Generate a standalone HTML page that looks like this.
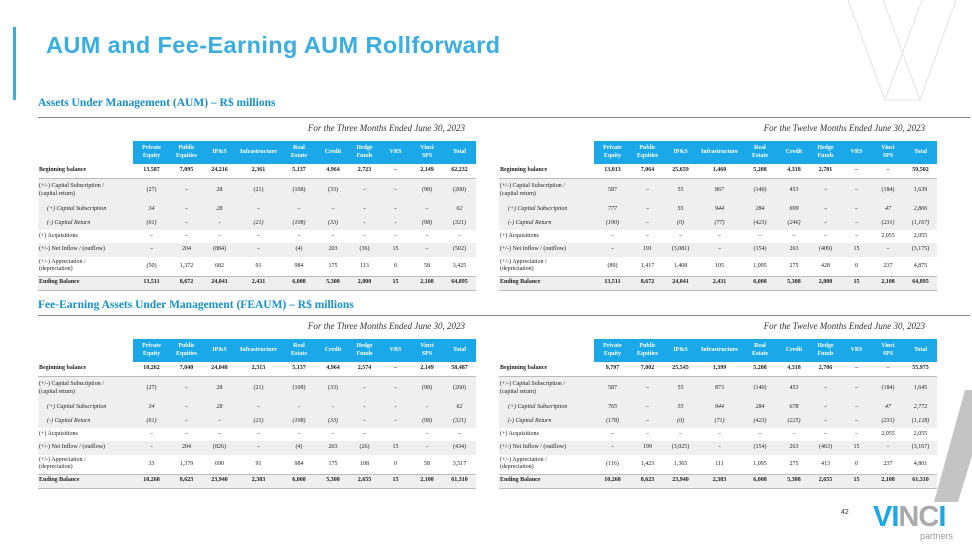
<!DOCTYPE html>
<html><head><meta charset="utf-8"><style>
*{margin:0;padding:0;box-sizing:border-box}
body{width:972px;height:547px;background:#fff;position:relative;overflow:hidden;font-family:"Liberation Serif",serif;color:#222}
.bar{position:absolute;left:13px;top:27px;width:3px;height:73px;background:#3aaee0}
.title{position:absolute;left:46px;top:32px;font:bold 23.5px "Liberation Sans",sans-serif;color:#3aaee0;letter-spacing:0.4px}
.sec{position:absolute;left:38px;font:bold 11.5px "Liberation Serif",serif;color:#1a8fc9}
.rule{position:absolute;left:38px;right:2px;height:1px;background:#888}
.cap{position:absolute;font:italic 9px "Liberation Serif",serif;color:#333;text-align:right;width:300px}
table{position:absolute;border-collapse:collapse;table-layout:fixed;font-size:6px;width:438px}
td{text-align:center;padding:0;vertical-align:middle;line-height:7.5px}
td.l{text-align:left;padding-left:1px}
tr.h td{background:#1aa8e8;color:#fff;font-weight:bold;height:23px;font-size:6px}
tr.h td.l{background:#fff}
tr.g td{background:#efefef}
td.i{font-style:italic;padding-left:9px}
tr.b td{font-weight:bold}
tr.sb td{border-bottom:1.5px solid #bbb}
tr.st td{border-top:1.5px solid #bbb;border-bottom:1.5px solid #bbb}
</style></head><body>
<div class="bar"></div>
<div class="title">AUM and Fee-Earning AUM Rollforward</div>
<svg style="position:absolute;left:0;top:0" width="972" height="547">
<g stroke="#ddd" stroke-width="0.8" fill="none">
<line x1="848" y1="0" x2="885" y2="100"/><line x1="883" y1="0" x2="920" y2="100"/>
<line x1="922" y1="0" x2="885" y2="100"/><line x1="956" y1="0" x2="920" y2="100"/>
<line x1="885" y1="100" x2="920" y2="100"/></g>
<polygon points="965,390 992,390 958,502 934,502" fill="#c4c4c4"/>
</svg>
<div class="sec" style="top:97px">Assets Under Management (AUM) – R$ millions</div>
<div class="rule" style="top:117px"></div>
<div class="sec" style="top:299px">Fee-Earning Assets Under Management (FEAUM) – R$ millions</div>
<div class="rule" style="top:315px"></div>

<div class="cap" style="left:165px;top:123px">For the Three Months Ended June 30, 2023</div>
<div class="cap" style="left:625px;top:123px">For the Twelve Months Ended June 30, 2023</div>
<div class="cap" style="left:165px;top:321px">For the Three Months Ended June 30, 2023</div>
<div class="cap" style="left:625px;top:321px">For the Twelve Months Ended June 30, 2023</div>

<table style="left:38px;top:141px">
<colgroup><col style="width:95px"><col style="width:37px"><col style="width:33px"><col style="width:33px"><col style="width:45px"><col style="width:36px"><col style="width:32px"><col style="width:31px"><col style="width:31px"><col style="width:32px"><col style="width:33px"></colgroup>
<tr class="h"><td class="l"></td><td>Private<br>Equity</td><td>Public<br>Equities</td><td>IP&amp;S</td><td>Infrastructure</td><td>Real<br>Estate</td><td>Credit</td><td>Hedge<br>Funds</td><td>VRS</td><td>Vinci<br>SPS</td><td>Total</td></tr>
<tr class="b sb" style="height:14px"><td class="l">Beginning balance</td><td>13,587</td><td>7,095</td><td>24,216</td><td>2,361</td><td>5,137</td><td>4,964</td><td>2,723</td><td>–</td><td>2,149</td><td>62,232</td></tr>
<tr class="g" style="height:25px"><td class="l">(+/-) Capital Subscription /<br>(capital return)</td><td>(27)</td><td>–</td><td>28</td><td>(21)</td><td>(108)</td><td>(33)</td><td>–</td><td>–</td><td>(98)</td><td>(260)</td></tr>
<tr class="g" style="height:14px;font-style:italic"><td class="l i">(+) Capital Subscription</td><td>34</td><td>–</td><td>28</td><td>–</td><td>–</td><td>–</td><td>–</td><td>–</td><td>–</td><td>62</td></tr>
<tr class="g" style="height:13px;font-style:italic"><td class="l i">(-) Capital Return</td><td>(61)</td><td>–</td><td>–</td><td>(21)</td><td>(108)</td><td>(33)</td><td>–</td><td>–</td><td>(98)</td><td>(321)</td></tr>
<tr style="height:13px"><td class="l">(+) Acquisitions</td><td>–</td><td>–</td><td>–</td><td>–</td><td>–</td><td>–</td><td>–</td><td>–</td><td>–</td><td>–</td></tr>
<tr class="g" style="height:14px"><td class="l">(+/-) Net Inflow / (outflow)</td><td>–</td><td>204</td><td>(884)</td><td>–</td><td>(4)</td><td>203</td><td>(36)</td><td>15</td><td>–</td><td>(502)</td></tr>
<tr style="height:19px"><td class="l">(+/-) Appreciation /<br>(depreciation)</td><td>(50)</td><td>1,372</td><td>682</td><td>91</td><td>984</td><td>175</td><td>113</td><td>0</td><td>58</td><td>3,425</td></tr>
<tr class="g b st" style="height:14px"><td class="l">Ending Balance</td><td>13,511</td><td>8,672</td><td>24,041</td><td>2,431</td><td>6,008</td><td>5,308</td><td>2,800</td><td>15</td><td>2,108</td><td>64,895</td></tr>
</table>

<table style="left:499px;top:141px">
<colgroup><col style="width:95px"><col style="width:37px"><col style="width:33px"><col style="width:33px"><col style="width:45px"><col style="width:36px"><col style="width:32px"><col style="width:31px"><col style="width:31px"><col style="width:32px"><col style="width:33px"></colgroup>
<tr class="h"><td class="l"></td><td>Private<br>Equity</td><td>Public<br>Equities</td><td>IP&amp;S</td><td>Infrastructure</td><td>Real<br>Estate</td><td>Credit</td><td>Hedge<br>Funds</td><td>VRS</td><td>Vinci<br>SPS</td><td>Total</td></tr>
<tr class="b sb" style="height:14px"><td class="l">Beginning balance</td><td>13,013</td><td>7,064</td><td>25,659</td><td>1,460</td><td>5,208</td><td>4,318</td><td>2,781</td><td>–</td><td>–</td><td>59,502</td></tr>
<tr class="g" style="height:25px"><td class="l">(+/-) Capital Subscription /<br>(capital return)</td><td>587</td><td>–</td><td>55</td><td>867</td><td>(140)</td><td>453</td><td>–</td><td>–</td><td>(184)</td><td>1,639</td></tr>
<tr class="g" style="height:14px;font-style:italic"><td class="l i">(+) Capital Subscription</td><td>777</td><td>–</td><td>55</td><td>944</td><td>284</td><td>699</td><td>–</td><td>–</td><td>47</td><td>2,806</td></tr>
<tr class="g" style="height:13px;font-style:italic"><td class="l i">(-) Capital Return</td><td>(190)</td><td>–</td><td>(0)</td><td>(77)</td><td>(423)</td><td>(246)</td><td>–</td><td>–</td><td>(231)</td><td>(1,167)</td></tr>
<tr style="height:13px"><td class="l">(+) Acquisitions</td><td>–</td><td>–</td><td>–</td><td>–</td><td>–</td><td>–</td><td>–</td><td>–</td><td>2,055</td><td>2,055</td></tr>
<tr class="g" style="height:14px"><td class="l">(+/-) Net Inflow / (outflow)</td><td>–</td><td>191</td><td>(3,081)</td><td>–</td><td>(154)</td><td>263</td><td>(409)</td><td>15</td><td>–</td><td>(3,175)</td></tr>
<tr style="height:19px"><td class="l">(+/-) Appreciation /<br>(depreciation)</td><td>(89)</td><td>1,417</td><td>1,408</td><td>105</td><td>1,095</td><td>275</td><td>428</td><td>0</td><td>237</td><td>4,875</td></tr>
<tr class="g b st" style="height:14px"><td class="l">Ending Balance</td><td>13,511</td><td>8,672</td><td>24,041</td><td>2,431</td><td>6,008</td><td>5,308</td><td>2,800</td><td>15</td><td>2,108</td><td>64,895</td></tr>
</table>

<table style="left:38px;top:339px">
<colgroup><col style="width:95px"><col style="width:37px"><col style="width:33px"><col style="width:33px"><col style="width:45px"><col style="width:36px"><col style="width:32px"><col style="width:31px"><col style="width:31px"><col style="width:32px"><col style="width:33px"></colgroup>
<tr class="h"><td class="l"></td><td>Private<br>Equity</td><td>Public<br>Equities</td><td>IP&amp;S</td><td>Infrastructure</td><td>Real<br>Estate</td><td>Credit</td><td>Hedge<br>Funds</td><td>VRS</td><td>Vinci<br>SPS</td><td>Total</td></tr>
<tr class="b sb" style="height:14px"><td class="l">Beginning balance</td><td>10,262</td><td>7,040</td><td>24,048</td><td>2,313</td><td>5,137</td><td>4,964</td><td>2,574</td><td>–</td><td>2,149</td><td>58,487</td></tr>
<tr class="g" style="height:25px"><td class="l">(+/-) Capital Subscription /<br>(capital return)</td><td>(27)</td><td>–</td><td>28</td><td>(21)</td><td>(108)</td><td>(33)</td><td>–</td><td>–</td><td>(98)</td><td>(260)</td></tr>
<tr class="g" style="height:14px;font-style:italic"><td class="l i">(+) Capital Subscription</td><td>34</td><td>–</td><td>28</td><td>–</td><td>–</td><td>–</td><td>–</td><td>–</td><td>–</td><td>62</td></tr>
<tr class="g" style="height:13px;font-style:italic"><td class="l i">(-) Capital Return</td><td>(61)</td><td>–</td><td>–</td><td>(21)</td><td>(108)</td><td>(33)</td><td>–</td><td>–</td><td>(98)</td><td>(321)</td></tr>
<tr style="height:13px"><td class="l">(+) Acquisitions</td><td>–</td><td>–</td><td>–</td><td>–</td><td>–</td><td>–</td><td>–</td><td></td><td>–</td><td>–</td></tr>
<tr class="g" style="height:14px"><td class="l">(+/-) Net Inflow / (outflow)</td><td>–</td><td>204</td><td>(826)</td><td>–</td><td>(4)</td><td>203</td><td>(26)</td><td>15</td><td>–</td><td>(434)</td></tr>
<tr style="height:19px"><td class="l">(+/-) Appreciation /<br>(depreciation)</td><td>33</td><td>1,379</td><td>690</td><td>91</td><td>984</td><td>175</td><td>108</td><td>0</td><td>58</td><td>3,517</td></tr>
<tr class="g b st" style="height:14px"><td class="l">Ending Balance</td><td>10,268</td><td>8,623</td><td>23,940</td><td>2,383</td><td>6,008</td><td>5,308</td><td>2,655</td><td>15</td><td>2,108</td><td>61,310</td></tr>
</table>

<table style="left:499px;top:339px">
<colgroup><col style="width:95px"><col style="width:37px"><col style="width:33px"><col style="width:33px"><col style="width:45px"><col style="width:36px"><col style="width:32px"><col style="width:31px"><col style="width:31px"><col style="width:32px"><col style="width:33px"></colgroup>
<tr class="h"><td class="l"></td><td>Private<br>Equity</td><td>Public<br>Equities</td><td>IP&amp;S</td><td>Infrastructure</td><td>Real<br>Estate</td><td>Credit</td><td>Hedge<br>Funds</td><td>VRS</td><td>Vinci<br>SPS</td><td>Total</td></tr>
<tr class="b sb" style="height:14px"><td class="l">Beginning balance</td><td>9,797</td><td>7,002</td><td>25,545</td><td>1,399</td><td>5,208</td><td>4,318</td><td>2,706</td><td>–</td><td>–</td><td>55,975</td></tr>
<tr class="g" style="height:25px"><td class="l">(+/-) Capital Subscription /<br>(capital return)</td><td>587</td><td>–</td><td>55</td><td>873</td><td>(140)</td><td>453</td><td>–</td><td>–</td><td>(184)</td><td>1,645</td></tr>
<tr class="g" style="height:14px;font-style:italic"><td class="l i">(+) Capital Subscription</td><td>765</td><td>–</td><td>55</td><td>944</td><td>284</td><td>678</td><td>–</td><td>–</td><td>47</td><td>2,772</td></tr>
<tr class="g" style="height:13px;font-style:italic"><td class="l i">(-) Capital Return</td><td>(178)</td><td>–</td><td>(0)</td><td>(71)</td><td>(423)</td><td>(225)</td><td>–</td><td>–</td><td>(231)</td><td>(1,128)</td></tr>
<tr style="height:13px"><td class="l">(+) Acquisitions</td><td>–</td><td>–</td><td>–</td><td>–</td><td>–</td><td>–</td><td>–</td><td>–</td><td>2,055</td><td>2,055</td></tr>
<tr class="g" style="height:14px"><td class="l">(+/-) Net Inflow / (outflow)</td><td>–</td><td>199</td><td>(3,025)</td><td>–</td><td>(154)</td><td>263</td><td>(463)</td><td>15</td><td>–</td><td>(3,167)</td></tr>
<tr style="height:19px"><td class="l">(+/-) Appreciation /<br>(depreciation)</td><td>(116)</td><td>1,423</td><td>1,365</td><td>111</td><td>1,095</td><td>275</td><td>413</td><td>0</td><td>237</td><td>4,801</td></tr>
<tr class="g b st" style="height:14px"><td class="l">Ending Balance</td><td>10,268</td><td>8,623</td><td>23,940</td><td>2,383</td><td>6,008</td><td>5,308</td><td>2,655</td><td>15</td><td>2,108</td><td>61,310</td></tr>
</table>

<div style="position:absolute;left:841px;top:509px;font:7px 'Liberation Sans',sans-serif;color:#333">42</div>
<div style="position:absolute;left:873px;top:502px;font:bold 29px 'Liberation Sans',sans-serif;letter-spacing:-1px;line-height:30px"><span style="color:#1aa8e8">V</span><span style="color:#1aa8e8">I</span><span style="color:#aaa">N</span><span style="color:#aaa">C</span><span style="color:#1aa8e8">I</span></div>
<div style="position:absolute;left:920px;top:531px;font:9px 'Liberation Sans',sans-serif;color:#999">partners</div>
</body></html>
